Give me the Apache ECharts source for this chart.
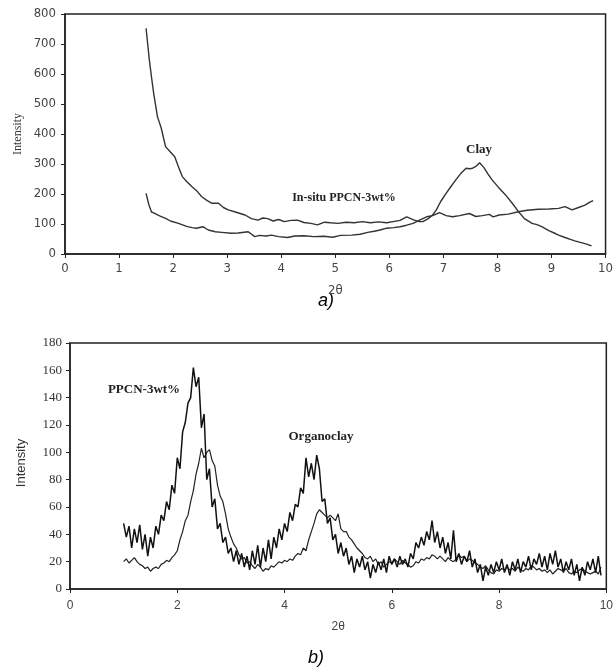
<!DOCTYPE html>
<html>
<head>
<meta charset="utf-8">
<script src="https://cdn.jsdelivr.net/npm/echarts@6/dist/echarts.min.js"></script>
<style>
html,body{margin:0;padding:0;background:#fff;}
#chart{width:616px;height:670px;}
</style>
</head>
<body>
<div id="chart"></div>
<script>
// ---- Panel a) data: [2theta, intensity]
const clayA = [[1.5,752],[1.53,700],[1.56,647],[1.6,590],[1.64,536],[1.71,458],[1.78,420],[1.86,358],[1.95,340],[2.03,324],[2.1,290],[2.17,258],[2.26,240],[2.35,224],[2.45,208],[2.53,191],[2.63,178],[2.72,169],[2.84,169],[2.93,155],[3.02,147],[3.15,140],[3.33,130],[3.45,118],[3.57,113],[3.66,120],[3.75,118],[3.85,110],[3.95,115],[4.06,108],[4.18,112],[4.3,113],[4.42,105],[4.55,102],[4.67,97],[4.8,106],[4.91,104],[5.05,102],[5.2,106],[5.35,104],[5.5,108],[5.65,104],[5.8,107],[5.95,104],[6.07,108],[6.2,112],[6.32,124],[6.45,114],[6.55,108],[6.62,108],[6.72,118],[6.8,130],[6.87,147],[6.95,175],[7.05,202],[7.14,225],[7.23,247],[7.32,268],[7.42,286],[7.48,284],[7.54,286],[7.6,292],[7.67,304],[7.75,288],[7.82,268],[7.9,247],[8.02,222],[8.15,197],[8.27,170],[8.39,141],[8.5,118],[8.64,102],[8.73,98],[8.82,91],[8.95,78],[9.05,70],[9.13,63],[9.25,55],[9.35,49],[9.43,44],[9.55,38],[9.65,33],[9.74,27]];
const ppcnA = [[1.5,202],[1.55,165],[1.6,140],[1.65,136],[1.75,127],[1.86,119],[1.95,110],[2.1,102],[2.25,92],[2.35,88],[2.43,86],[2.55,91],[2.65,80],[2.78,74],[2.9,72],[3.08,69],[3.2,70],[3.39,74],[3.51,58],[3.6,62],[3.72,60],[3.82,63],[3.95,58],[4.12,55],[4.25,60],[4.42,61],[4.6,58],[4.79,59],[4.95,56],[5.1,62],[5.3,63],[5.46,66],[5.6,72],[5.72,76],[5.83,80],[5.95,86],[6.08,88],[6.2,91],[6.32,96],[6.44,102],[6.55,112],[6.69,124],[6.8,128],[6.93,138],[7.05,128],[7.17,124],[7.3,128],[7.48,135],[7.6,125],[7.72,128],[7.85,132],[7.92,124],[8.03,130],[8.2,133],[8.39,141],[8.55,146],[8.76,149],[8.95,150],[9.13,152],[9.25,158],[9.38,147],[9.5,155],[9.62,163],[9.7,172],[9.77,178]];

// ---- Panel b) data: sampled every 0.05 degree from 1.00 to 9.90
const bStart = 1.0;
const bStep = 0.05;
const ppcnB = [
  48,38,46,30,44,34,47,29,40,24,38,30,46,40,54,50,64,58,76,70,
  96,88,115,122,136,140,162,148,155,118,128,80,88,60,66,44,48,34,38,26,
  30,20,28,18,26,16,24,14,28,18,32,16,30,20,36,22,38,30,44,36,
  48,42,56,50,62,60,74,70,96,82,92,80,98,88,64,66,48,52,36,40,
  26,34,24,30,18,24,12,22,16,24,14,20,8,18,12,20,14,22,12,24,
  18,22,16,24,18,22,16,26,22,34,30,38,32,42,36,50,34,42,30,38,
  26,34,22,43,20,26,18,24,20,28,16,22,12,18,6,16,10,18,12,20,
  14,22,12,18,10,20,14,22,12,20,16,24,14,22,18,26,16,24,14,26,
  18,28,16,22,12,20,14,22,10,18,6,16,10,20,14,22,12,24,10
];
const organoB = [
  20,22,19,21,23,20,18,17,15,16,13,15,16,15,18,19,21,20,23,25,
  28,36,42,50,54,64,72,84,92,103,96,100,102,94,90,76,68,64,55,44,
  38,33,30,25,22,23,19,20,17,15,18,16,13,15,14,17,16,18,20,19,
  21,20,22,21,24,26,25,30,28,36,42,48,55,58,56,54,52,54,52,50,
  55,44,42,42,38,36,33,30,28,26,23,22,24,20,22,18,20,16,18,20,
  19,22,20,18,21,19,18,16,17,20,19,22,21,23,22,25,24,22,24,22,
  20,23,21,20,22,25,23,24,20,22,21,19,18,16,15,17,14,12,11,14,
  13,15,14,16,14,15,13,16,14,13,15,14,17,16,14,15,13,14,12,14,
  11,13,15,14,13,15,12,11,13,12,14,15,13,12,11,12,13,11,16
];

// ---- Tick settings
const aXTicks = {min: 0, max: 10, interval: 1};
const aYTicks = {min: 0, max: 800, interval: 100};
const bXTicks = {min: 0, max: 10, interval: 2};
const bYTicks = {min: 0, max: 180, interval: 20};

const toPairs = (arr) => arr.map((v, i) => [+(bStart + i * bStep).toFixed(2), v]);

const ink = '#222';
const narrow = '"Liberation Sans Narrow","DejaVu Sans Condensed","Liberation Sans",sans-serif';
const serif = '"Liberation Serif","DejaVu Serif",serif';
const sans = '"Liberation Sans","DejaVu Sans",sans-serif';

const axisLine = {show: true, lineStyle: {color: ink, width: 1.5}};
const axisTick = {show: true, inside: false, length: 4, lineStyle: {color: ink, width: 1}};

const chart = echarts.init(document.getElementById('chart'), null, {renderer: 'canvas'});
chart.setOption({
  backgroundColor: '#fff',
  animation: false,
  grid: [
    {left: 65, top: 14, width: 546, height: 240, show: true, borderColor: ink, borderWidth: 1.5, backgroundColor: 'transparent'},
    {left: 70, top: 343, width: 540, height: 246, show: true, borderColor: ink, borderWidth: 1.5, backgroundColor: 'transparent'}
  ],
  xAxis: [
    {type: 'value', gridIndex: 0, min: aXTicks.min, max: aXTicks.max, interval: aXTicks.interval,
     axisLine, axisTick, splitLine: {show: false},
     axisLabel: {color: '#444', fontFamily: narrow, fontSize: 13, margin: 8},
     name: '2θ', nameLocation: 'middle', nameGap: 30,
     nameTextStyle: {color: '#444', fontFamily: narrow, fontSize: 13}},
    {type: 'value', gridIndex: 1, min: bXTicks.min, max: bXTicks.max, interval: bXTicks.interval,
     axisLine, axisTick, splitLine: {show: false},
     axisLabel: {color: '#444', fontFamily: sans, fontSize: 12, margin: 11},
     name: '2θ', nameLocation: 'middle', nameGap: 32,
     nameTextStyle: {color: '#444', fontFamily: sans, fontSize: 12}}
  ],
  yAxis: [
    {type: 'value', gridIndex: 0, min: aYTicks.min, max: aYTicks.max, interval: aYTicks.interval,
     axisLine, axisTick, splitLine: {show: false},
     axisLabel: {color: '#444', fontFamily: narrow, fontSize: 13, margin: 9}},
    {type: 'value', gridIndex: 1, min: bYTicks.min, max: bYTicks.max, interval: bYTicks.interval,
     axisLine, axisTick, splitLine: {show: false},
     axisLabel: {color: '#333', fontFamily: serif, fontSize: 13, margin: 8}}
  ],
  series: [
    {name: 'Clay', type: 'line', xAxisIndex: 0, yAxisIndex: 0, data: clayA, symbol: 'none', smooth: false,
     lineStyle: {color: '#333', width: 1.4}},
    {name: 'In-situ PPCN-3wt%', type: 'line', xAxisIndex: 0, yAxisIndex: 0, data: ppcnA, symbol: 'none', smooth: false,
     lineStyle: {color: '#333', width: 1.4}},
    {name: 'Organoclay', type: 'line', xAxisIndex: 1, yAxisIndex: 1, data: toPairs(organoB), symbol: 'none', smooth: false,
     lineStyle: {color: '#222', width: 1.2}},
    {name: 'PPCN-3wt%', type: 'line', xAxisIndex: 1, yAxisIndex: 1, data: toPairs(ppcnB), symbol: 'none', smooth: false,
     lineStyle: {color: '#111', width: 1.5}}
  ],
  graphic: [
    {type: 'text', x: 18, y: 134, rotation: Math.PI / 2,
     style: {text: 'Intensity', fill: '#333', font: '12px "Liberation Serif", serif', align: 'center', verticalAlign: 'middle'}},
    {type: 'text', x: 21, y: 463, rotation: Math.PI / 2,
     style: {text: 'Intensity', fill: '#333', font: '13px "Liberation Sans", sans-serif', align: 'center', verticalAlign: 'middle'}},
    {type: 'text', x: 344, y: 198,
     style: {text: 'In-situ PPCN-3wt%', fill: '#222', font: 'bold 12px "Liberation Serif", serif', align: 'center', verticalAlign: 'middle'}},
    {type: 'text', x: 479, y: 150,
     style: {text: 'Clay', fill: '#222', font: 'bold 13px "Liberation Serif", serif', align: 'center', verticalAlign: 'middle'}},
    {type: 'text', x: 144, y: 390,
     style: {text: 'PPCN-3wt%', fill: '#222', font: 'bold 13px "Liberation Serif", serif', align: 'center', verticalAlign: 'middle'}},
    {type: 'text', x: 321, y: 437,
     style: {text: 'Organoclay', fill: '#222', font: 'bold 13px "Liberation Serif", serif', align: 'center', verticalAlign: 'middle'}},
    {type: 'text', x: 326, y: 301,
     style: {text: 'a)', fill: '#000', font: 'italic 18px "Liberation Sans", sans-serif', align: 'center', verticalAlign: 'middle'}},
    {type: 'text', x: 316, y: 658,
     style: {text: 'b)', fill: '#000', font: 'italic 18px "Liberation Sans", sans-serif', align: 'center', verticalAlign: 'middle'}}
  ]
});
</script>
</body>
</html>
